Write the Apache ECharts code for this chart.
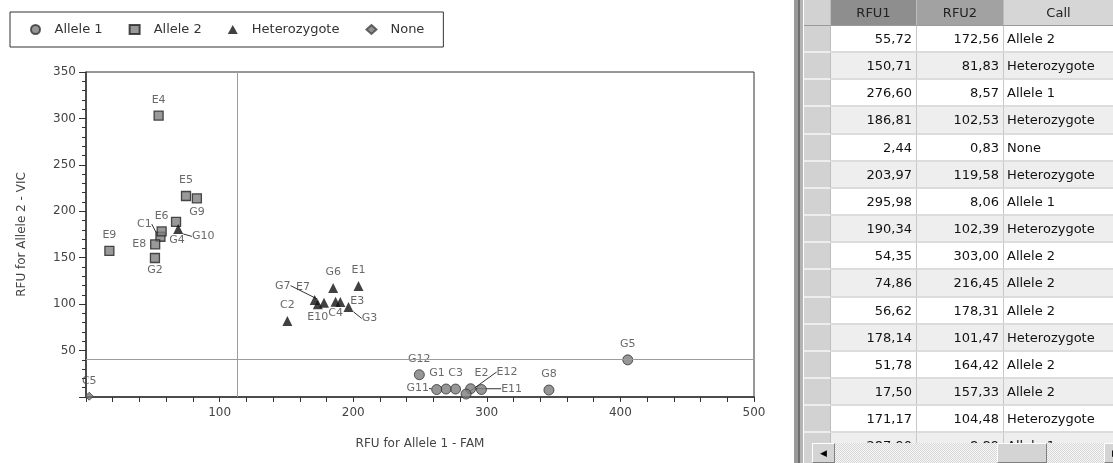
<!DOCTYPE html>
<html>
<head>
<meta charset="utf-8">
<script src="https://cdn.jsdelivr.net/npm/echarts@6/dist/echarts.min.js"></script>
<style>
  body { margin: 0; background: #fff; font-family: 'DejaVu Sans', sans-serif; }
  #chart { position: absolute; left: 0; top: 0; width: 1113px; height: 463px; }
  #frame { position: absolute; left: 794px; top: 0; width: 10px; height: 463px;
    background: linear-gradient(to right, #9a9a9a 0 4px, #707070 4px 6px, #b4b4b4 6px 9px, #fff 9px 10px); }
  #tbl { position: absolute; left: 804px; top: 0; width: 309px; height: 443px; overflow: hidden;
    font: 13px 'DejaVu Sans', sans-serif; color: #111; }
  .row { display: flex; height: 27.17px; box-sizing: border-box; }
  .row.head { height: 26px; }
  .row > div { box-sizing: border-box; white-space: nowrap; overflow: hidden; }
  .c0 { width: 27px; background: #d2d2d2; border-bottom: 2px solid #ededed; border-right: 1px solid #bdbdbd; }
  .c1 { width: 86px; text-align: right; padding-right: 4px; border-right: 1px solid #c8c8c8; border-bottom: 2px solid #dcdcdc; }
  .c2 { width: 87px; text-align: right; padding-right: 4px; border-right: 1px solid #c8c8c8; border-bottom: 2px solid #dcdcdc; }
  .c3 { flex: 1; padding-left: 3px; border-bottom: 2px solid #dcdcdc; }
  .row > div { line-height: 25px; }
  .row.alt .c1, .row.alt .c2, .row.alt .c3 { background: #eeeeee; }
  .head > div { text-align: center; padding: 0; line-height: 26px; border-bottom: 1px solid #9a9a9a; color: #222; }
  .head .c1 { background: #8e8e8e; border-right: 1px solid #bcbcbc; }
  .head .c2 { background: #a2a2a2; border-right: 1px solid #bcbcbc; }
  .head .c3 { background: #d6d6d6; }
  #hscroll { position: absolute; left: 804px; top: 443px; width: 309px; height: 20px; background: #d2d2d2; }
  #track { position: absolute; left: 8px; top: 0; right: 0; height: 20px;
    background: repeating-conic-gradient(#d8d8d8 0 25%, #f6f6f6 0 50%) 0 0 / 2px 2px; }
  .btn { position: absolute; top: 0; height: 20px; box-sizing: border-box; background: #d4d4d4;
    border-top: 1px solid #fff; border-left: 1px solid #fff; border-right: 1px solid #808080; border-bottom: 1px solid #808080;
    font-size: 9px; line-height: 18px; text-align: center; color: #000; }
</style>
</head>
<body>
<div id="chart"></div>
<div id="frame"></div>
<div id="tbl"></div>
<div id="hscroll">
  <div id="track"></div>
  <div class="btn" style="left:8px;width:23px;">&#9664;</div>
  <div class="btn" style="left:193px;width:50px;"></div>
  <div class="btn" style="left:300px;width:23px;">&#9654;</div>
</div>
<script>
const wells = ['C1', 'C2', 'C3', 'C4', 'C5', 'E1', 'E2', 'E3', 'E4', 'E5', 'E6', 'E7', 'E8', 'E9', 'E10', 'E11', 'E12',
  'G1', 'G2', 'G3', 'G4', 'G5', 'G6', 'G7', 'G8', 'G9', 'G10', 'G11', 'G12'];
const rfu1 = [55.72, 150.71, 276.60, 186.81, 2.44, 203.97, 295.98, 190.34, 54.35, 74.86, 56.62, 178.14, 51.78, 17.50, 171.17, 287.90, 284.5,
  269.5, 51.6, 196.5, 67.4, 405.5, 185.0, 173.5, 346.5, 83.0, 69.0, 262.5, 249.5];
const rfu2 = [172.56, 81.83, 8.57, 102.53, 0.83, 119.58, 8.06, 102.39, 303.00, 216.45, 178.31, 101.47, 164.42, 157.33, 104.48, 8.89, 3.2,
  8.6, 149.7, 97.0, 188.5, 40.0, 117.5, 100.0, 7.5, 214.0, 181.0, 8.0, 24.0];
const calls = ['Allele 2', 'Heterozygote', 'Allele 1', 'Heterozygote', 'None', 'Heterozygote', 'Allele 1', 'Heterozygote',
  'Allele 2', 'Allele 2', 'Allele 2', 'Heterozygote', 'Allele 2', 'Allele 2', 'Heterozygote', 'Allele 1', 'Allele 1',
  'Allele 1', 'Allele 2', 'Heterozygote', 'Allele 2', 'Allele 1', 'Heterozygote', 'Heterozygote', 'Allele 1', 'Allele 2',
  'Heterozygote', 'Allele 1', 'Allele 1'];

const callTypes = ['Allele 1', 'Allele 2', 'Heterozygote', 'None'];
const thresholdX = 113;
const thresholdY = 41;

// label placement tweaks (dx, dy from the default "top" spot) and which ones get a leader line
const labelShift = {
  C1: [-16, 3], E8: [-16, 15], G2: [0, 28], G4: [1, 34], G10: [25, 23], G9: [0, 30],
  E10: [3, 33], C4: [0, 27], E3: [17, 15], G3: [21, 27], G7: [-35, -3], E7: [-21, 0],
  G1: [-9, 0], E12: [41, -6], E11: [41, 16], G11: [-19, 15]
};
const leaders = ['C1', 'G10', 'G3', 'G7', 'E12', 'E11', 'G11'];

const symbolStyle = {
  'Allele 1': { symbol: 'circle', size: 10, itemStyle: { color: '#7c7c7c', borderColor: '#333', borderWidth: 1 } },
  'Allele 2': { symbol: 'rect', size: 9, itemStyle: { color: '#808080', borderColor: '#222', borderWidth: 1.3 } },
  'Heterozygote': { symbol: 'triangle', size: 10, itemStyle: { color: '#111' } },
  'None': { symbol: 'diamond', size: 8, itemStyle: { color: '#777', borderColor: '#444', borderWidth: 1 } }
};

const fmt = v => v.toFixed(2).replace('.', ',');

const buildTable = () => {
  let html = '<div class="row head"><div class="c0"></div><div class="c1">RFU1</div><div class="c2">RFU2</div><div class="c3">Call</div></div>';
  wells.forEach((w, i) => {
    html += '<div class="row' + (i % 2 ? ' alt' : '') + '"><div class="c0"></div><div class="c1">' + fmt(rfu1[i]) +
      '</div><div class="c2">' + fmt(rfu2[i]) + '</div><div class="c3">' + calls[i] + '</div></div>';
  });
  document.getElementById('tbl').innerHTML = html;
};

const getSeries = () => {
  return callTypes.map((type, k) => {
    const data = [];
    wells.forEach((w, i) => {
      if (calls[i] !== type) return;
      data.push({ name: w, value: [rfu1[i], rfu2[i]], labelLine: { show: leaders.includes(w) } });
    });
    const st = symbolStyle[type];
    const s = {
      name: type,
      type: 'scatter',
      symbol: st.symbol,
      symbolSize: st.size,
      itemStyle: st.itemStyle,
      data: data,
      label: { show: true, position: 'top', distance: 5, formatter: '{b}', fontSize: 11, color: '#444', fontFamily: 'DejaVu Sans' },
      labelLine: { show: false, lineStyle: { color: '#333', width: 1 } },
      labelLayout: p => {
        const sh = labelShift[p.text];
        return sh ? { dx: sh[0], dy: sh[1] } : {};
      },
      emphasis: { disabled: true }
    };
    if (k === 0) {
      s.markLine = {
        silent: true, symbol: 'none', animation: false,
        label: { show: false },
        lineStyle: { color: '#9c9c9c', width: 1, type: 'solid' },
        data: [{ xAxis: thresholdX }, { yAxis: thresholdY }]
      };
    }
    return s;
  });
};

const getOption = () => {
  return {
    animation: false,
    textStyle: { fontFamily: 'DejaVu Sans' },
    legend: {
      left: 10, top: 12,
      padding: [11, 19, 11, 20],
      borderColor: '#333', borderWidth: 1,
      itemWidth: 10, itemHeight: 9, itemGap: 26,
      textStyle: { fontSize: 13, color: '#333', fontFamily: 'DejaVu Sans', padding: [0, 0, 0, 9] },
      data: callTypes
    },
    grid: { left: 86, right: 359, top: 72, bottom: 66, show: true, borderColor: '#333', borderWidth: 1, backgroundColor: '#fff' },
    xAxis: {
      type: 'value', min: 0, max: 500, interval: 20,
      name: 'RFU for Allele 1 - FAM', nameLocation: 'middle', nameGap: 41,
      nameTextStyle: { fontSize: 12, color: '#444' },
      axisLine: { show: true, onZero: false, lineStyle: { color: '#333', width: 1.5 } },
      axisTick: { show: true, length: 5, lineStyle: { color: '#333' } },
      axisLabel: { formatter: v => (v % 100 === 0 && v > 0 ? String(v) : ''), color: '#444', fontSize: 12, margin: 10 },
      splitLine: { show: false }
    },
    yAxis: {
      type: 'value', min: 0, max: 350, interval: 50,
      name: 'RFU for Allele 2 - VIC', nameLocation: 'middle', nameGap: 58,
      nameTextStyle: { fontSize: 12, color: '#444' },
      axisLine: { show: true, onZero: false, lineStyle: { color: '#333', width: 1.5 } },
      axisTick: { show: true, length: 7, lineStyle: { color: '#333' } },
      minorTick: { show: true, splitNumber: 5, length: 4, lineStyle: { color: '#333' } },
      axisLabel: { formatter: v => (v > 0 ? String(v) : ''), color: '#444', fontSize: 12, margin: 10 },
      splitLine: { show: false }
    },
    series: getSeries()
  };
};

window.addEventListener('load', () => {
  buildTable();
  const chart = echarts.init(document.getElementById('chart'));
  chart.setOption(getOption());
});
</script>
</body>
</html>
